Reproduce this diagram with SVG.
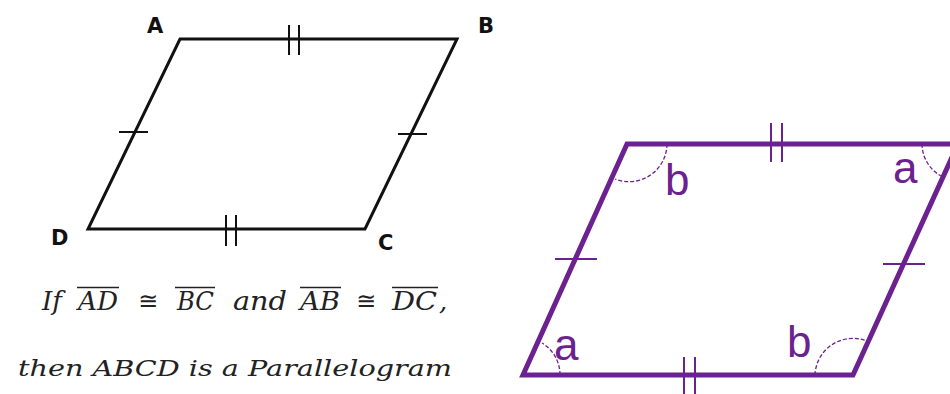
<svg xmlns="http://www.w3.org/2000/svg" width="950" height="394" viewBox="0 0 950 394">
<style>
.blk{fill:none;stroke:#111;stroke-width:3;stroke-linejoin:miter}
.tk{stroke:#111;stroke-width:2}
.lbl{font-family:"DejaVu Sans","Liberation Sans",sans-serif;font-weight:bold;font-size:21px;fill:#111}
.it{font-family:"DejaVu Serif","Liberation Serif",serif;font-style:italic;fill:#222}
.l1{font-size:26px}
.l2{font-size:23px}
.sym{font-family:"DejaVu Sans","Liberation Sans",sans-serif;font-size:24px;fill:#222}
.ov{stroke:#222;stroke-width:1.6}
.pp{fill:none;stroke:#6B2290;stroke-width:5;stroke-linejoin:miter}
.ptk{stroke:#6B2290;stroke-width:2}
.arc{fill:none;stroke:#6B2290;stroke-width:1.3;stroke-dasharray:4 2}
.plbl{font-family:"Liberation Sans",Arial,sans-serif;font-size:44px;fill:#6B2290}
</style>
<rect width="950" height="394" fill="#fff"/>
<g id="parallelogram-abcd">
<polygon class="blk" points="180,39 457,39 365,229 88,229"/>
<line class="tk" x1="289" y1="25" x2="289" y2="55"/>
<line class="tk" x1="299" y1="25" x2="299" y2="55"/>
<line class="tk" x1="226" y1="215" x2="226" y2="246"/>
<line class="tk" x1="236" y1="215" x2="236" y2="246"/>
<line class="tk" x1="119" y1="132" x2="148" y2="132"/>
<line class="tk" x1="398" y1="134" x2="427" y2="134"/>
<text class="lbl" x="147" y="33">A</text>
<text class="lbl" x="478" y="33">B</text>
<text class="lbl" x="378" y="250">C</text>
<text class="lbl" x="51" y="245">D</text>
</g>
<g id="statement">
<text class="it l1" x="42" y="310">If</text>
<text class="it l1" x="78" y="310" textLength="40" lengthAdjust="spacingAndGlyphs">AD</text>
<line class="ov" x1="77" y1="287.5" x2="119" y2="287.5"/>
<text class="sym" x="138" y="309">≅</text>
<text class="it l1" x="177" y="310" textLength="37" lengthAdjust="spacingAndGlyphs">BC</text>
<line class="ov" x1="175" y1="287.5" x2="215" y2="287.5"/>
<text class="it l1" x="233" y="310" textLength="54" lengthAdjust="spacingAndGlyphs">and</text>
<text class="it l1" x="300" y="310" textLength="40" lengthAdjust="spacingAndGlyphs">AB</text>
<line class="ov" x1="300" y1="287.5" x2="341" y2="287.5"/>
<text class="sym" x="356" y="309">≅</text>
<text class="it l1" x="392" y="310" textLength="45" lengthAdjust="spacingAndGlyphs">DC</text>
<line class="ov" x1="392" y1="287.5" x2="438" y2="287.5"/>
<text class="it l1" x="439" y="310">,</text>
<text class="it l2" x="18" y="376" textLength="434" lengthAdjust="spacingAndGlyphs">then ABCD is a Parallelogram</text>
</g>
<g id="parallelogram-angles">
<polygon class="pp" points="627,144 958,144 853,375 523,375"/>
<line class="ptk" x1="771" y1="123" x2="771" y2="162"/>
<line class="ptk" x1="782" y1="123" x2="782" y2="162"/>
<line class="ptk" x1="684" y1="357" x2="684" y2="394"/>
<line class="ptk" x1="695" y1="357" x2="695" y2="394"/>
<line class="ptk" x1="555" y1="259" x2="597" y2="259"/>
<line class="ptk" x1="883" y1="264" x2="925" y2="264"/>
<path class="arc" d="M667,144 A38,38 0 0 1 615,179"/>
<path class="arc" d="M922,144 A37,37 0 0 0 941,176"/>
<path class="arc" d="M560,375 A37,37 0 0 0 542,343"/>
<path class="arc" d="M815,375 A38,38 0 0 1 867,341"/>
<text class="plbl" x="665" y="195">b</text>
<text class="plbl" x="893" y="183">a</text>
<text class="plbl" x="554" y="360">a</text>
<text class="plbl" x="787" y="357">b</text>
</g>
</svg>
